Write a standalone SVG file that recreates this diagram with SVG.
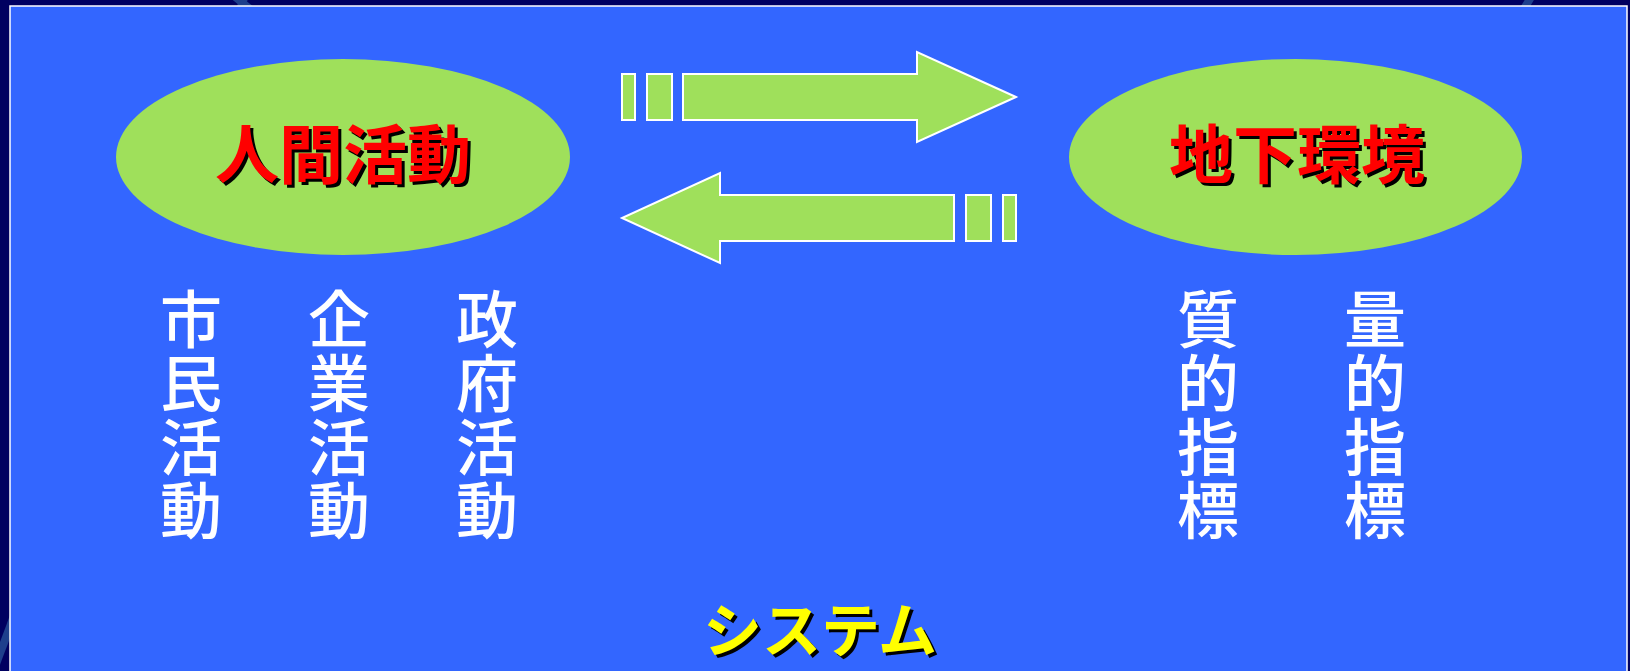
<svg xmlns="http://www.w3.org/2000/svg" width="1630" height="671" viewBox="0 0 1630 671">
<style>
.node{fill:#9FE05B;}
.arrow{fill:#9FE05B;stroke:#FFFFFF;stroke-width:2;stroke-linejoin:miter;}
.title{font-family:"Noto Sans CJK JP","Noto Sans CJK SC",sans-serif;font-weight:bold;font-size:64px;text-anchor:middle;}
.sys{font-family:"Noto Sans CJK JP","Noto Sans CJK SC",sans-serif;font-weight:bold;font-size:59px;text-anchor:middle;}
.col{font-family:"Noto Sans CJK JP","Noto Sans CJK SC",sans-serif;font-weight:500;font-size:62px;fill:#FFFFFF;text-anchor:middle;}
.deco{fill:none;stroke:#1E3F8C;stroke-width:8;}
</style>
<rect x="0" y="0" width="1630" height="671" fill="#000060"/>
<g id="background-deco">
<path class="deco" d="M 200 -40 Q 240 10 300 40"/>
<path class="deco" d="M 250 -20 Q 240 10 230 40" stroke="#2A57A8"/>
<path class="deco" d="M 1540 -20 Q 1520 20 1500 40" stroke="#2A57A8"/>
<path class="deco" d="M -10 680 Q 5 640 20 600" stroke="#2A57A8"/>
</g>
<rect id="panel" x="10" y="6" width="1617" height="668" fill="#3366FF" stroke="#FFFFFF" stroke-width="1.5"/>
<g id="node-human">
<ellipse class="node" cx="343" cy="157" rx="227" ry="98"/>
<text class="title" x="346" y="181" fill="#000000">人間活動</text>
<text class="title" x="343" y="178" fill="#FF0000">人間活動</text>
</g>
<g id="node-underground">
<ellipse class="node" cx="1295.5" cy="157" rx="226.5" ry="98"/>
<text class="title" x="1300" y="181" fill="#000000">地下環境</text>
<text class="title" x="1297" y="178" fill="#FF0000">地下環境</text>
</g>
<g id="connectors">
<g id="arrow-right">
<rect class="arrow" x="622" y="74" width="13" height="46"/>
<rect class="arrow" x="647" y="74" width="25" height="46"/>
<path class="arrow" d="M 683 74 L 917 74 L 917 52 L 1016 97 L 917 142 L 917 120 L 683 120 Z"/>
</g>
<g id="arrow-left">
<rect class="arrow" x="1003" y="195" width="13" height="46"/>
<rect class="arrow" x="966" y="195" width="25" height="46"/>
<path class="arrow" d="M 954 195 L 720 195 L 720 173 L 622 218 L 720 263 L 720 241 L 954 241 Z"/>
</g>
</g>
<g id="label-citizen">
<text class="col"><tspan x="191" y="343">市</tspan><tspan x="191" y="407">民</tspan><tspan x="191" y="471">活</tspan><tspan x="191" y="534">動</tspan></text>
</g>
<g id="label-company">
<text class="col"><tspan x="339" y="343">企</tspan><tspan x="339" y="407">業</tspan><tspan x="339" y="471">活</tspan><tspan x="339" y="534">動</tspan></text>
</g>
<g id="label-government">
<text class="col"><tspan x="487" y="343">政</tspan><tspan x="487" y="407">府</tspan><tspan x="487" y="471">活</tspan><tspan x="487" y="534">動</tspan></text>
</g>
<g id="label-quality">
<text class="col"><tspan x="1208" y="343">質</tspan><tspan x="1208" y="407">的</tspan><tspan x="1208" y="471">指</tspan><tspan x="1208" y="534">標</tspan></text>
</g>
<g id="label-quantity">
<text class="col"><tspan x="1375" y="343">量</tspan><tspan x="1375" y="407">的</tspan><tspan x="1375" y="471">指</tspan><tspan x="1375" y="534">標</tspan></text>
</g>
<g id="label-system">
<text class="sys" x="823" y="655" fill="#000000">システム</text>
<text class="sys" x="820" y="652" fill="#FFFF00">システム</text>
</g>
</svg>
